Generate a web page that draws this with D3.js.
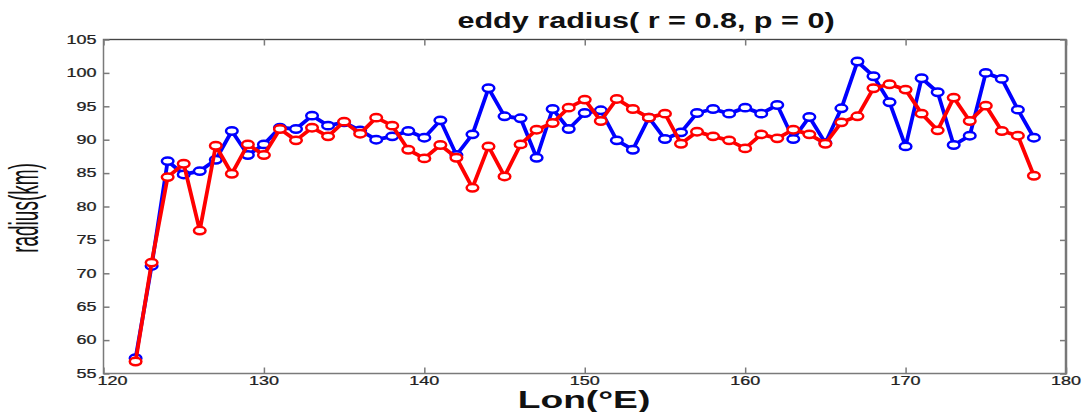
<!DOCTYPE html>
<html><head><meta charset="utf-8">
<script src="https://cdn.jsdelivr.net/npm/d3@7"></script>
<style>body{margin:0;background:#fff}svg{display:block}</style>
</head><body>
<svg id="c" width="1089" height="412"></svg>
<script>
const lon = d3.range(122, 179);
const blueSeries = [57.3,71.1,86.8,84.8,85.3,87.0,91.3,87.7,89.3,91.8,91.6,93.6,92.1,92.6,91.4,90.0,90.5,91.3,90.3,92.9,87.7,90.8,97.7,93.5,93.2,87.3,94.6,91.6,94.0,94.4,89.9,88.5,93.3,90.1,91.1,94.0,94.6,93.9,94.8,93.9,95.2,90.1,93.4,89.5,94.7,101.7,99.5,95.6,89.0,99.2,97.1,89.2,90.6,100.0,99.1,94.5,90.3];
const redSeries = [56.8,71.6,84.4,86.4,76.4,89.1,84.9,89.3,87.7,91.6,89.9,91.8,90.5,92.7,90.9,93.3,92.1,88.5,87.2,89.2,87.3,82.8,89.0,84.5,89.3,91.5,92.5,94.8,96.0,92.8,96.1,94.6,93.3,93.9,89.4,91.2,90.5,89.9,88.7,90.8,90.2,91.5,90.8,89.4,92.6,93.5,97.7,98.3,97.5,93.9,91.4,96.3,92.8,95.1,91.3,90.6,84.6];
const xTicks = [120,130,140,150,160,170,180];
const yTicks = [55,60,65,70,75,80,85,90,95,100,105];

const svg = d3.select('#c');
const L=103.5, R=1066, T=39.5, B=373.5;
const x = d3.scaleLinear().domain([120,180]).range([L,R]);
const y = d3.scaleLinear().domain([55,105]).range([B,T]);
const axCol = '#7a7a7a';
const font = 'Liberation Sans, Arial, sans-serif';

// frame
svg.append('rect').attr('x',L).attr('y',T).attr('width',R-L).attr('height',B-T)
  .attr('fill','none').attr('stroke',axCol).attr('stroke-width',1.5);
svg.append('line').attr('x1',L).attr('x2',R).attr('y1',T).attr('y2',T)
  .attr('stroke','#444').attr('stroke-width',1);
svg.append('line').attr('x1',R).attr('x2',R).attr('y1',T).attr('y2',B+1)
  .attr('stroke','#777').attr('stroke-width',2.5);

const gx = svg.append('g').attr('transform',`translate(0,${B})`)
  .call(d3.axisBottom(x).tickValues(xTicks).tickSize(-6).tickFormat(''));
const gxt = svg.append('g').attr('transform',`translate(0,${T})`)
  .call(d3.axisTop(x).tickValues(xTicks).tickSize(-6).tickFormat(''));
const gy = svg.append('g').attr('transform',`translate(${L},0)`)
  .call(d3.axisLeft(y).tickValues(yTicks).tickSize(-6).tickFormat(''));
const gyr = svg.append('g').attr('transform',`translate(${R},0)`)
  .call(d3.axisRight(y).tickValues(yTicks).tickSize(-6).tickFormat(''));
[gx,gxt,gy,gyr].forEach(g=>{
  g.select('.domain').remove();
  g.selectAll('.tick line').attr('stroke',axCol).attr('stroke-width',1.5);
});

// stretched tick labels (drawn from the same scales)
const lab = svg.append('g').attr('font-family',font).attr('font-size',12).attr('fill','#222')
  .attr('stroke','#222').attr('stroke-width',0.25);
lab.selectAll('.yl').data(yTicks).join('text').attr('class','yl')
  .attr('text-anchor','end')
  .attr('transform',d=>`translate(${L-7},${y(d)+4.3}) scale(1.5,1)`).text(d=>d);
lab.selectAll('.xl').data(xTicks).join('text').attr('class','xl')
  .attr('text-anchor','middle')
  .attr('transform',(d,i)=>`translate(${x(d)+(i===0?9:0)},${B+11}) scale(1.5,1)`).text(d=>d);

// series
const line = d3.line().x((d,i)=>x(lon[i])).y(d=>y(d));
function drawSeries(vals,col){
  svg.append('path').datum(vals).attr('d',line).attr('fill','none')
    .attr('stroke',col).attr('stroke-width',3.8).attr('stroke-linejoin','round');
  svg.append('g').selectAll('ellipse').data(vals).join('ellipse')
    .attr('cx',(d,i)=>x(lon[i])).attr('cy',d=>y(d)).attr('rx',5.8).attr('ry',3.7)
    .attr('fill','#fff').attr('stroke',col).attr('stroke-width',2.5);
}
drawSeries(blueSeries,'#0000ff');
drawSeries(redSeries,'#ff0000');

// titles
svg.append('text').attr('transform','translate(646,28) scale(1.39,1)').attr('text-anchor','middle')
  .attr('font-family',font).attr('font-size',22).attr('font-weight','bold').attr('fill','#111')
  .text('eddy radius( r = 0.8, p = 0)');
svg.append('text').attr('transform','translate(584,408) scale(1.55,1)').attr('text-anchor','middle')
  .attr('font-family',font).attr('font-size',24).attr('font-weight','bold').attr('fill','#111')
  .text('Lon(°E)');
svg.append('text').attr('transform','translate(38,208) rotate(-90) scale(1,2.1)')
  .attr('text-anchor','middle').attr('font-family',font).attr('font-size',19).attr('fill','#111')
  .text('radius(km)');
</script>
</body></html>
